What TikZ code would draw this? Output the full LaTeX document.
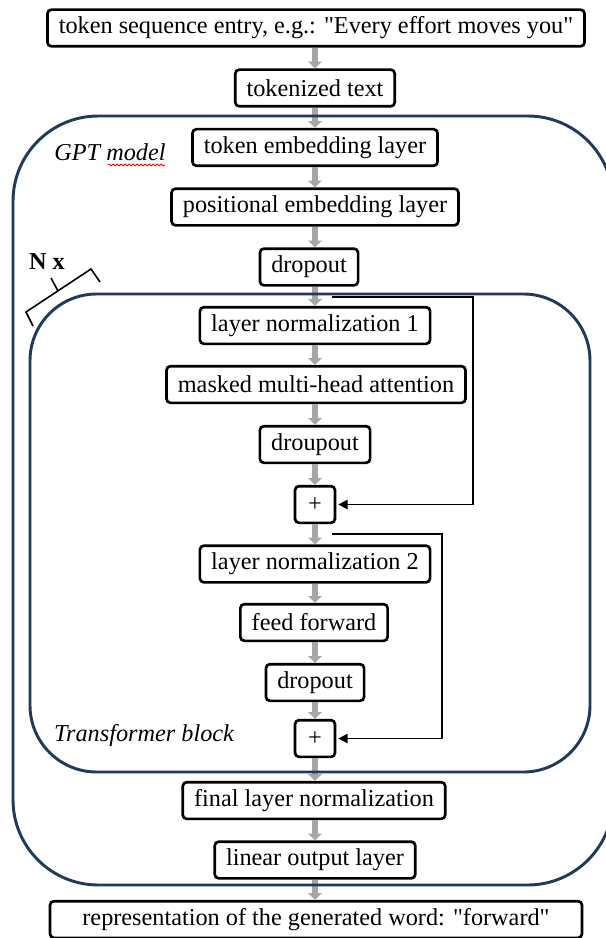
\documentclass[tikz,border=0pt]{standalone}
\usepackage{fontspec}
\setmainfont{Liberation Serif}[Ligatures=TeXOff]
\usetikzlibrary{arrows.meta,decorations.pathmorphing}
\definecolor{navy}{HTML}{1F3A5C}
\definecolor{flowgray}{RGB}{166,166,166}

\begin{document}
\begin{tikzpicture}[x=0.75pt,y=-0.75pt,
  box/.style={draw,line width=2pt,rounded corners=3pt,fill=white,inner xsep=8.5pt,minimum height=27.5pt,font=\fontsize{18.2}{20}\selectfont},
  plus/.style={box,minimum width=30pt,inner xsep=0pt},
  lbl/.style={font=\itshape\fontsize{18.2}{20}\selectfont},
  flow/.style={flowgray,line width=4.5pt,-{Triangle[width=10pt,length=5pt]}},
  skip/.style={line width=1.2pt,shorten >=1.5pt,-{Triangle[width=7pt,length=7pt]}},
  frame/.style={navy,line width=2.2pt}]
\useasboundingbox (0,0) rectangle (606,938);

\node[box] (seq) at (316,28) {token sequence entry, e.g.: "Every effort moves you"};
\node[box] (tok) at (315,88) {tokenized text};
\node[box] (emb) at (315,147.5) {token embedding layer};
\node[box] (pos) at (315,207) {positional embedding layer};
\node[box] (drop) at (309,267) {dropout};
\node[box] (norma) at (315,325.5) {layer normalization 1};
\node[box] (att) at (316,384.5) {masked multi-head attention};
\node[box] (droupa) at (315,444.5) {droupout};
\node[plus] (plusa) at (315,504.5) {+};
\node[box] (normb) at (315,564) {layer normalization 2};
\node[box] (ff) at (314,622.5) {feed forward};
\node[box] (dropb) at (315,682.5) {dropout};
\node[plus] (plusb) at (315,738.5) {+};
\node[box] (fnorm) at (314,800.5) {final layer normalization};
\node[box] (lin) at (315,860) {linear output layer};
\node[box,minimum width=399pt] (out) at (316,919.5) {representation of the generated word: "forward"};

\node[lbl] (gpt) at (110,152) {GPT model};
\draw[red,line width=0.6pt,decorate,decoration={snake,amplitude=0.7pt,segment length=3pt}] (108,165)--(165,165);
\node[lbl] (trf) at (144,736) {Transformer block};
\node[font=\bfseries\fontsize{18.2}{20}\selectfont] (nx) at (47,262) {N x};
\draw[line width=1.2pt] (33,326)--(26,312)--(91,269)--(100,282) (58,291)--(51,278);

\foreach \a/\b in {seq/tok,tok/emb,emb/pos,pos/drop,drop/norma,norma/att,att/droupa,droupa/plusa,plusa/normb,normb/ff,ff/dropb,dropb/plusb,plusb/fnorm,fnorm/lin,lin/out}
  \draw[flow] (\a.south-|plusa)--(\b.north-|plusa);

\coordinate (skipa) at (332,297);
\draw[skip] (skipa) -- ++(141,0) |- (plusa.east);
\coordinate (skipb) at (332,534);
\draw[skip] (skipb) -- ++(110,0) |- (plusb.east);

\draw[frame,rounded corners=64pt] (13,116) rectangle (613,885);
\draw[frame,rounded corners=50pt] (30,294) rectangle (590,772);
\end{tikzpicture}
\end{document}
